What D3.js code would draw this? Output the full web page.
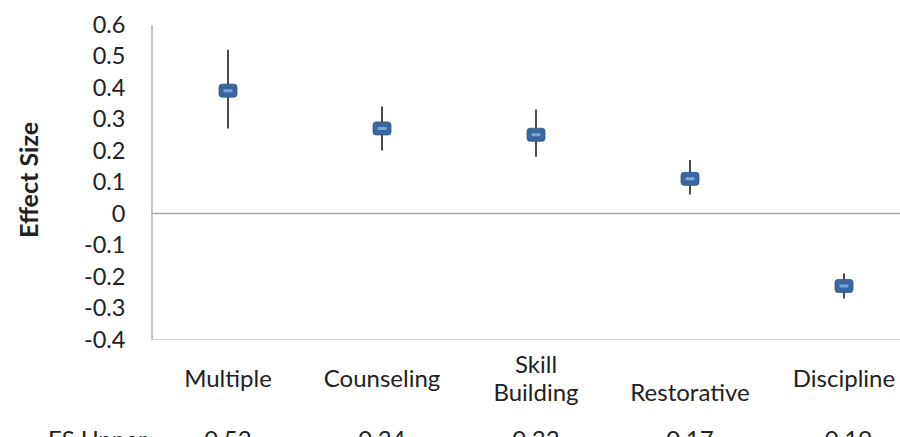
<!DOCTYPE html>
<html>
<head>
<meta charset="utf-8">
<script src="https://cdn.jsdelivr.net/npm/d3@7"></script>
<style>
  html, body { margin: 0; padding: 0; background: #fff; }
  svg { display: block; }
  text { font-family: Lato, "Open Sans", sans-serif; fill: #222; }
</style>
</head>
<body>
<script>
// Intervention categories (label lines as shown under the axis)
const categories = ["Multiple", "Counseling", "Skill Building", "Restorative", "Discipline"];
const categoryLines = [["Multiple"], ["Counseling"], ["Skill", "Building"], ["", "Restorative"], ["Discipline"]];
// Mean effect size and confidence bounds
const esMean  = [0.39, 0.27, 0.25, 0.11, -0.23];
const esLower = [0.27, 0.20, 0.18, 0.06, -0.27];
const esUpper = [0.52, 0.34, 0.33, 0.17, -0.19];
const upperLabels = ["0.52", "0.34", "0.33", "0.17", "-0.19"];
const yTicks = [0.6, 0.5, 0.4, 0.3, 0.2, 0.1, 0, -0.1, -0.2, -0.3, -0.4];

const W = 900, H = 437;
const svg = d3.select("body").append("svg").attr("width", W).attr("height", H);

const x = d3.scaleBand().domain(categories).range([151, 921]);
const y = d3.scaleLinear().domain([-0.4, 0.6]).range([339.5, 24.5]);

// Y axis line and tick labels (plain hyphen for negatives)
const yAxis = d3.axisLeft(y).tickValues(yTicks).tickSize(0).tickPadding(26)
  .tickFormat(d => d === 0 ? "0" : d3.format(".1f")(d).replace("\u2212", "-"));
const gy = svg.append("g").attr("transform", "translate(151.5,0)").call(yAxis);
gy.select(".domain").attr("stroke", "#8c8c8c").attr("stroke-width", 1);
gy.selectAll("text").attr("font-size", 23.5).attr("fill", "#222")
  .style("font-family", "Lato, sans-serif");

// Bottom frame line
svg.append("line").attr("x1", 151).attr("x2", 921)
  .attr("y1", y(-0.4)).attr("y2", y(-0.4))
  .attr("stroke", "#d6d6d6").attr("stroke-width", 1);

// Zero line
svg.append("line").attr("x1", 151).attr("x2", 921)
  .attr("y1", y(0)).attr("y2", y(0))
  .attr("stroke", "#a8a8a8").attr("stroke-width", 1.6);

// Y axis title
svg.append("text")
  .attr("transform", `translate(38,${y(0.1) - 2}) rotate(-90)`)
  .attr("text-anchor", "middle")
  .attr("font-size", 25).attr("font-weight", "bold")
  .text("Effect Size");

const cx = d => x(d) + x.bandwidth() / 2;

// Confidence interval whiskers
svg.append("g").selectAll("line").data(categories).join("line")
  .attr("x1", d => cx(d)).attr("x2", d => cx(d))
  .attr("y1", (d, i) => y(esUpper[i])).attr("y2", (d, i) => y(esLower[i]))
  .attr("stroke", "#111").attr("stroke-width", 1.5);

// Mean markers
const m = svg.append("g").selectAll("g").data(categories).join("g")
  .attr("transform", (d, i) => `translate(${cx(d)},${y(esMean[i])})`);
m.append("rect").attr("x", -9).attr("y", -6.5).attr("width", 18).attr("height", 13)
  .attr("rx", 3).attr("fill", "#3b67a0").attr("stroke", "#2f568a").attr("stroke-width", 0.8);
m.append("rect").attr("x", -4.5).attr("y", -1.5).attr("width", 9).attr("height", 3)
  .attr("rx", 1).attr("fill", "#79a6dc");

// Category labels
const lab = svg.append("g").selectAll("text").data(categories).join("text")
  .attr("text-anchor", "middle").attr("font-size", 24)
  .attr("transform", d => `translate(${cx(d)},0)`);
lab.each(function(d, i) {
  const lines = categoryLines[i];
  const t = d3.select(this);
  const lh = 28;
  const y0 = 387 - (lines.length - 1) * lh / 2;
  lines.forEach((s, k) => {
    t.append("tspan").attr("x", 0).attr("y", y0 + k * lh).text(s);
  });
});

// Data table row (upper bounds), running past the bottom edge
svg.append("text").attr("x", 48).attr("y", 448).attr("font-size", 24).text("ES Upper");
svg.append("g").selectAll("text").data(categories).join("text")
  .attr("x", d => cx(d)).attr("y", 448).attr("text-anchor", "middle").attr("font-size", 24)
  .text((d, i) => upperLabels[i]);
</script>
</body>
</html>
